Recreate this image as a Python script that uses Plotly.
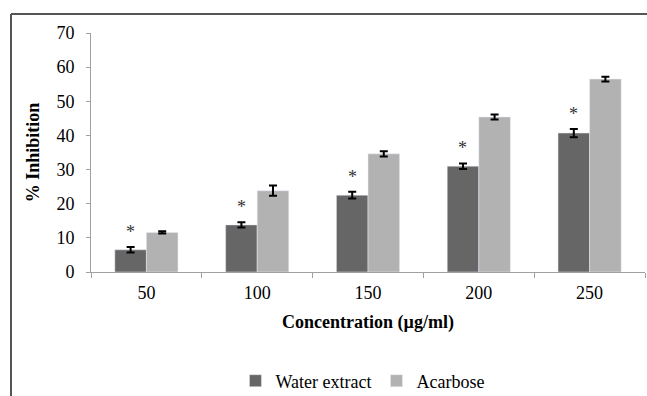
import plotly.graph_objects as go

categories = ["50", "100", "150", "200", "250"]
water = [6.5, 13.8, 22.5, 31.0, 40.7]
water_err = [0.8, 0.8, 1.0, 0.8, 1.2]
acarbose = [11.6, 23.8, 34.6, 45.4, 56.5]
acarbose_err = [0.3, 1.5, 0.8, 0.7, 0.7]
y_ticks = [0, 10, 20, 30, 40, 50, 60, 70]

font = "Liberation Serif"

fig = go.Figure()
fig.add_trace(go.Bar(
    x=categories, y=water, name="Water extract", marker_color="#666666",
    error_y=dict(type="data", array=water_err, color="black", thickness=2, width=4)))
fig.add_trace(go.Bar(
    x=categories, y=acarbose, name="Acarbose", marker_color="#b2b2b2",
    error_y=dict(type="data", array=acarbose_err, color="black", thickness=2, width=4)))

for i, (v, e) in enumerate(zip(water, water_err)):
    fig.add_annotation(x=i, y=v + e, text="*", showarrow=False, xshift=-16,
                       yshift=15, font=dict(family=font, size=18, color="#333"))

L, T, B = 91, 33, 124
W, H = 647 - L - 2, 396 - T - B
lx = (11 - L) / W
ty = (272 - 14) / H
by = (272 - 396) / H
for x0, y0, x1, y1 in [(lx, by, lx, ty), (lx, ty, 1.1, ty)]:
    fig.add_shape(type="line", xref="paper", yref="paper", x0=x0, y0=y0, x1=x1, y1=y1,
                  line=dict(color="#555555", width=2))

fig.update_layout(
    width=647, height=396,
    margin=dict(l=L, r=2, t=T, b=B, autoexpand=False),
    paper_bgcolor="white", plot_bgcolor="white",
    barmode="group", bargap=0.43, bargroupgap=0,
    font=dict(family=font, color="black", size=18),
    showlegend=True,
    legend=dict(orientation="h", x=0.49, xanchor="center", y=(272 - 381) / H,
                yanchor="middle", font=dict(family=font, size=18)),
    xaxis=dict(
        type="category", range=[-0.5, len(categories) - 0.5], automargin=False,
        title=dict(text="<b>Concentration (µg/ml)</b>", font=dict(family=font, size=18), standoff=13),
        showline=True, linecolor="#a0a0a0", linewidth=1,
        ticks="outside", tickson="boundaries", ticklen=5, tickcolor="#a0a0a0",
        ticklabelstandoff=4,
        tickfont=dict(family=font, size=18)),
    yaxis=dict(
        automargin=False,
        title=dict(text="<b>% Inhibition</b>", font=dict(family=font, size=18), standoff=12),
        range=[0, 70], tickvals=y_ticks, showgrid=False, zeroline=False,
        showline=True, linecolor="#a0a0a0", linewidth=1,
        ticks="outside", ticklen=4, tickcolor="#a0a0a0", ticklabelstandoff=8,
        tickfont=dict(family=font, size=18)),
)

fig.write_html("out.html", config={"displayModeBar": False},
               post_script="document.body.style.margin='0';")
